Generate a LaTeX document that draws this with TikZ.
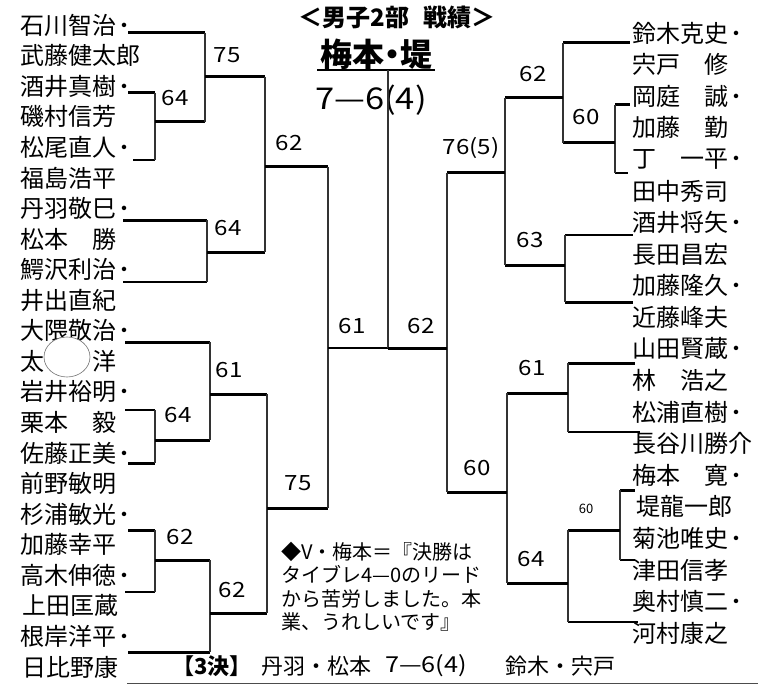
\documentclass[tikz,border=0pt]{standalone}
\usepackage{fontspec}
\setmainfont{Noto Sans CJK JP}
\newcommand{\dt}{\raisebox{3pt}{\fontsize{16}{16}\selectfont\bfseries ・}}
\newcommand{\sx}[1]{\scalebox{1.15}[1]{#1}}
\begin{document}
\begin{tikzpicture}[x=1pt,y=-1pt,
  nm/.style={anchor=west,inner sep=0pt,font=\fontsize{24}{24}\selectfont},
  sc/.style={inner sep=0pt,font=\fontsize{21}{21}\selectfont},
  win/.style={line width=3pt},
  los/.style={line width=1.2pt},
  vl/.style={line width=2.2pt,black!80},
]
\fill[white] (0,0) rectangle (758,690);
\useasboundingbox (0,0) rectangle (758,690);

% ---------- titles ----------
\node[inner sep=0pt,font=\fontsize{24}{24}\selectfont\bfseries] (title) at (397,17) {＜男子2部\hspace{0.6em}戦績＞};
\node[inner sep=0pt,font=\fontsize{32}{32}\selectfont\bfseries] (champ) at (376,54) {梅本\makebox[0.5em]{・}堤};
\draw[line width=2pt] (317,70) -- (435,70);
\node[inner sep=0pt,font=\fontsize{30}{30}\selectfont] (fscore) at (371,100) {\sx{7—6(4)}};

% ---------- left names ----------
\node[nm] (l1)  at (20,25)    {石川智治\dt};
\node[nm] (l2)  at (20,55.6)  {武藤健太郎};
\node[nm] (l3)  at (20,86.1)  {酒井真樹\dt};
\node[nm] (l4)  at (20,116.7) {磯村信芳};
\node[nm] (l5)  at (20,147.3) {松尾直人\dt};
\node[nm] (l6)  at (20,177.9) {福島浩平};
\node[nm] (l7)  at (20,208.4) {丹羽敬巳\dt};
\node[nm] (l8)  at (20,239.0) {松本　勝};
\node[nm] (l9)  at (20,269.6) {鰐沢利治\dt};
\node[nm] (l10) at (20,300.1) {井出直紀};
\node[nm] (l11) at (20,330.7) {大隈敬治\dt};
\node[nm] (l12) at (20,361.3) {太　　洋};
\node[nm] (l13) at (20,391.8) {岩井裕明\dt};
\node[nm] (l14) at (20,422.4) {栗本　毅};
\node[nm] (l15) at (20,453.0) {佐藤正美\dt};
\node[nm] (l16) at (20,483.6) {前野敏明};
\node[nm] (l17) at (20,514.1) {杉浦敏光\dt};
\node[nm] (l18) at (20,544.7) {加藤幸平};
\node[nm] (l19) at (20,575.3) {高木伸徳\dt};
\node[nm] (l20) at (22,605.8) {上田匡蔵};
\node[nm] (l21) at (20,636.4) {根岸洋平\dt};
\node[nm] (l22) at (22,667)   {日比野康};
\draw[black!55,line width=0.6pt,fill=white] (67,357) ellipse [x radius=23,y radius=20];

% ---------- right names ----------
\node[nm] (r1)  at (632,33)    {鈴木克史\dt};
\node[nm] (r2)  at (632,64.6)  {宍戸　修};
\node[nm] (r3)  at (632,96.2)  {岡庭　誠\dt};
\node[nm] (r4)  at (632,127.7) {加藤　勤};
\node[nm] (r5)  at (632,159.3) {丁　一平\dt};
\node[nm] (r6)  at (632,190.9) {田中秀司};
\node[nm] (r7)  at (632,222.5) {酒井将矢\dt};
\node[nm] (r8)  at (632,254.1) {長田昌宏};
\node[nm] (r9)  at (632,285.6) {加藤隆久\dt};
\node[nm] (r10) at (632,317.2) {近藤峰夫};
\node[nm] (r11) at (632,348.8) {山田賢蔵\dt};
\node[nm] (r12) at (632,380.4) {林　浩之};
\node[nm] (r13) at (632,412)   {松浦直樹\dt};
\node[nm] (r14) at (632,443.5) {長谷川勝介};
\node[nm] (r15) at (632,475.1) {梅本　寛\dt};
\node[nm] (r16) at (636,506.7) {堤龍一郎};
\node[nm] (r17) at (632,538.3) {菊池唯史\dt};
\node[nm] (r18) at (632,569.9) {津田信孝};
\node[nm] (r19) at (632,601.4) {奥村慎二\dt};
\node[nm] (r20) at (632,633)   {河村康之};

% ---------- left bracket ----------
\draw[win] (128,33) -- (205,33);
\draw[win] (128,93) -- (155,93);
\draw[los] (133,160) -- (155,160);
\draw[vl] (155,93) -- (155,160);
\draw[win] (155,122) -- (205,122);
\draw[vl] (205,33) -- (205,122);
\draw[win] (205,77) -- (265,77);
\draw[win] (123,220) -- (207,220);
\draw[los] (123,282) -- (207,282);
\draw[vl] (207,220) -- (207,282);
\draw[win] (207,252) -- (265,252);
\draw[vl] (265,77) -- (265,252);
\draw[win] (265,167) -- (328,167);
\draw[win] (125,342) -- (210,342);
\draw[los] (125,410) -- (155,410);
\draw[win] (128,463) -- (155,463);
\draw[vl] (155,410) -- (155,463);
\draw[win] (155,440) -- (210,440);
\draw[vl] (210,342) -- (210,440);
\draw[win] (210,394) -- (267,394);
\draw[win] (128,530) -- (155,530);
\draw[los] (125,592) -- (155,592);
\draw[vl] (155,530) -- (155,592);
\draw[win] (155,560) -- (210,560);
\draw[win] (128,652) -- (210,652);
\draw[vl] (210,560) -- (210,652);
\draw[win] (210,613) -- (267,613);
\draw[vl] (267,394) -- (267,613);
\draw[win] (267,508) -- (328,508);
\draw[vl] (328,167) -- (328,508);
\draw[line width=1.8pt] (328,348) -- (388,348);

% ---------- final ----------
\draw[vl] (388,70) -- (388,348);

% ---------- right bracket ----------
\draw[win] (563,43) -- (630,43);
\draw[win] (615,105) -- (630,105);
\draw[los] (615,173) -- (628,173);
\draw[vl] (615,105) -- (615,173);
\draw[win] (563,143) -- (615,143);
\draw[vl] (563,43) -- (563,143);
\draw[win] (505,98) -- (563,98);
\draw[los] (565,235) -- (633,235);
\draw[win] (565,302) -- (633,302);
\draw[vl] (565,235) -- (565,302);
\draw[win] (505,265) -- (565,265);
\draw[vl] (505,98) -- (505,265);
\draw[win] (447,173) -- (505,173);
\draw[win] (568,363) -- (635,363);
\draw[los] (568,432) -- (640,432);
\draw[vl] (568,363) -- (568,432);
\draw[win] (507,393) -- (568,393);
\draw[win] (620,490) -- (635,490);
\draw[los] (620,560) -- (635,560);
\draw[vl] (620,490) -- (620,560);
\draw[win] (568,530) -- (620,530);
\draw[los] (568,622) -- (638,622);
\draw[vl] (568,530) -- (568,622);
\draw[win] (507,583) -- (568,583);
\draw[vl] (507,393) -- (507,583);
\draw[win] (447,492) -- (507,492);
\draw[vl] (447,173) -- (447,492);
\draw[win] (388,348) -- (447,348);

% ---------- scores ----------
\node[sc] (s1)  at (227,55)  {\sx{75}};
\node[sc] (s2)  at (175,98)  {\sx{64}};
\node[sc] (s3)  at (228,228) {\sx{64}};
\node[sc] (s4)  at (289,143) {\sx{62}};
\node[sc] (s5)  at (229,370) {\sx{61}};
\node[sc] (s6)  at (178,415) {\sx{64}};
\node[sc] (s7)  at (180,537) {\sx{62}};
\node[sc] (s8)  at (232,590) {\sx{62}};
\node[sc] (s9)  at (298,483) {\sx{75}};
\node[sc] (s10) at (352,326) {\sx{61}};
\node[sc] (s11) at (421,326) {\sx{62}};
\node[sc] (s12) at (533,74)  {\sx{62}};
\node[sc] (s13) at (586,117) {\sx{60}};
\node[sc] (s14) at (471,148) {\sx{76(5)}};
\node[sc] (s15) at (530,240) {\sx{63}};
\node[sc] (s16) at (532,368) {\sx{61}};
\node[sc] (s17) at (477,468) {\sx{60}};
\node[inner sep=0pt,font=\fontsize{13}{13}\selectfont] (s18) at (586,509) {60};
\node[sc] (s19) at (531,559) {\sx{64}};

% ---------- comment ----------
\node[anchor=north west,inner sep=0pt,align=left,font=\fontsize{20}{23.3}\selectfont] (note) at (281,542)
 {◆V・梅本＝『決勝は\\タイブレ4—0のリード\\から苦労しました。本\\業、うれしいです』};

% ---------- third place ----------
\node[anchor=west,inner sep=0pt,font=\fontsize{22}{22}\selectfont\bfseries] (third) at (172,666) {【3決】};
\node[anchor=west,inner sep=0pt,font=\fontsize{22}{22}\selectfont] (tp1) at (261,666) {丹羽・松本};
\node[anchor=west,inner sep=0pt,font=\fontsize{22}{22}\selectfont] (tp2) at (385,666) {\sx{7—6(4)}};
\node[anchor=west,inner sep=0pt,font=\fontsize{22}{22}\selectfont] (tp3) at (505,666) {鈴木・宍戸};
\draw[line width=0.8pt,black!70] (127,683) -- (758,683);
\end{tikzpicture}
\end{document}
